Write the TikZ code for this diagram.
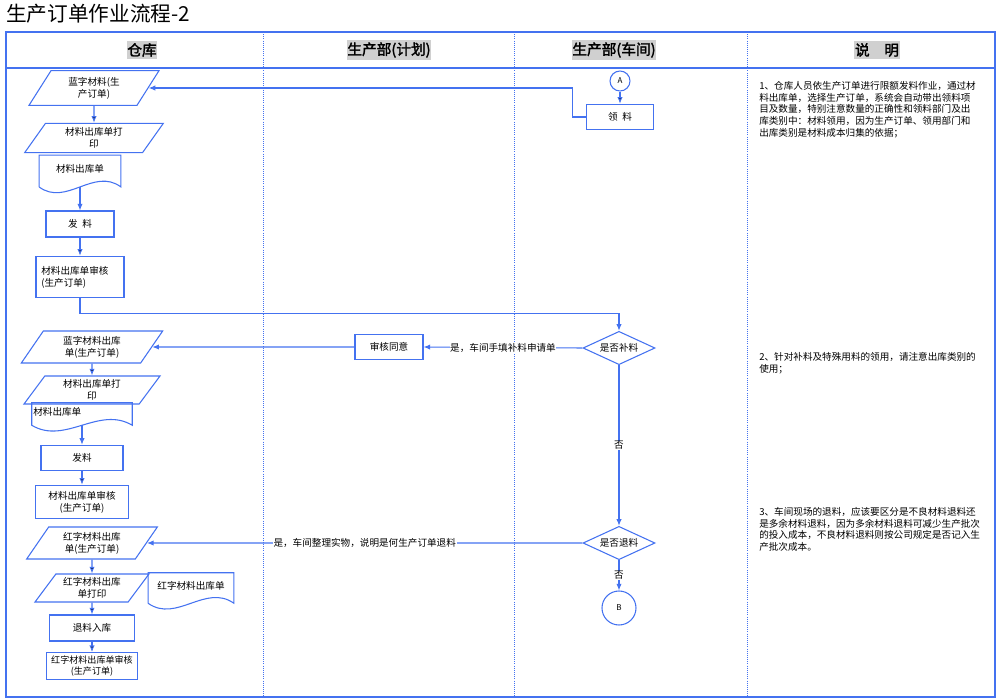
\documentclass[tikz,border=0pt]{standalone}
\usepackage{fontspec}
\setmainfont{Noto Sans CJK SC}
\newfontfamily\headfont{Noto Sans CJK SC}[FakeBold=2]
\usetikzlibrary{shapes.geometric,arrows.meta,calc}
\definecolor{flowblue}{RGB}{68,114,240}
\definecolor{headgray}{RGB}{208,208,208}
% document outline with wavy bottom
\newcommand{\docline}[1]{\draw[flowblue,line width=0.8pt] ([yshift=4.5pt]#1.south west) -- (#1.north west) -- (#1.north east) -- ([yshift=4.5pt]#1.south east) .. controls ($(#1.south east)!0.333!(#1.south west)+(0,19.5pt)$) and ($(#1.south east)!0.667!(#1.south west)+(0,-10.5pt)$) .. ([yshift=4.5pt]#1.south west);}
\begin{document}
\begin{tikzpicture}[x=0.75pt, y=-0.75pt,
    box/.style = {rectangle, draw=flowblue, line width=0.8pt, inner sep=1pt,
                  font=\fontsize{7.2}{9}\selectfont, align=center},
    para/.style = {trapezium, trapezium left angle=45, trapezium right angle=135,
                   trapezium stretches body, draw=flowblue, line width=0.8pt,
                   inner sep=0pt, font=\fontsize{7.2}{9}\selectfont, align=center},
    doc/.style = {rectangle, inner sep=1pt, text depth=8pt,
                  font=\fontsize{7.2}{9}\selectfont, align=center},
    dec/.style = {diamond, draw=flowblue, line width=0.8pt, aspect=2, inner sep=0pt,
                  minimum width=54pt, minimum height=25pt,
                  font=\fontsize{7.2}{9}\selectfont},
    conn/.style = {circle, draw=flowblue, line width=0.8pt, inner sep=0pt,
                   font=\fontsize{6}{7}\selectfont},
    head/.style = {fill=headgray, inner xsep=0.5pt, inner ysep=1.5pt,
                   font=\headfont\fontsize{11}{12}\selectfont},
    note/.style = {anchor=north west, inner sep=0pt, align=left,
                   font=\fontsize{7.2}{8.8}\selectfont},
    lbl/.style = {fill=white, inner sep=0.5pt, font=\fontsize{7.2}{9}\selectfont},
    flow/.style = {draw=flowblue, line width=0.8pt, -{Latex[length=5pt,width=4pt]}},
    lane/.style = {draw=flowblue, line width=0.8pt},
    lanesep/.style = {draw=flowblue, line width=0.6pt, densely dotted}]
    \useasboundingbox (0,0) rectangle (997,700);
    % title and lanes
    \node[anchor=west, inner sep=0pt, font=\fontsize{15.5}{18}\selectfont] (title) at (6,14) {生产订单作业流程-2};
    \draw[lane] (6,32) rectangle (995,697);
    \draw[lane] (6,68) -- (995,68);
    \foreach \x in {263,514,747}
        \draw[lanesep] (\x,32) -- (\x,697);
    \node[head] (hstore) at (142,50) {仓库};
    \node[head] (hplan) at (389,50) {生产部(计划)};
    \node[head] (hshop) at (614,50) {生产部(车间)};
    \node[head] (hnote) at (877,50) {说\hspace{1em}明};
    % warehouse
    \node[para, minimum width=97.5pt, minimum height=26pt] (bluein) at (94,88) {蓝字材料(生\\产订单)};
    \node[para, minimum width=104pt, minimum height=22pt] (print1) at (94,138) {材料出库单打\\印};
    \node[doc, minimum width=61pt, minimum height=28pt] (doc1) at (80,174) {材料出库单};
    \docline{doc1}
    \node[box, minimum width=51pt, minimum height=19.5pt] (issue1) at (80,224) {发\hspace{0.5em}料};
    \node[box, minimum width=66pt, minimum height=31pt, inner xsep=4pt, text width=58pt, align=left] (check1) at (80,277) {材料出库单审核\\(生产订单)};
    \node[para, minimum width=106pt, minimum height=24pt] (bluein2) at (92,347) {蓝字材料出库\\单(生产订单)};
    \node[para, minimum width=102pt, minimum height=21pt] (print2) at (92,390) {材料出库单打\\印};
    \node[doc, minimum width=75pt, minimum height=21pt, text width=73pt, align=left] (doc2) at (82,417) {材料出库单};
    \docline{doc2}
    \node[box, minimum width=61.5pt, minimum height=19pt] (issue2) at (82,458) {发料};
    \node[box, minimum width=70pt, minimum height=25pt] (check2) at (82,502) {材料出库单审核\\(生产订单)};
    \node[para, minimum width=98pt, minimum height=24pt] (redin) at (92,543) {红字材料出库\\单(生产订单)};
    \node[para, minimum width=85.5pt, minimum height=21pt] (print3) at (92,588) {红字材料出库\\单打印};
    \node[doc, minimum width=64pt, minimum height=27pt] (doc3) at (191,591) {红字材料出库单};
    \docline{doc3}
    \node[box, minimum width=64pt, minimum height=19.5pt] (back) at (92,628) {退料入库};
    \node[box, minimum width=68pt, minimum height=20pt, font=\fontsize{6.8}{8}\selectfont] (check3) at (92,666) {红字材料出库单审核\\(生产订单)};
    % planning
    \node[box, minimum width=51pt, minimum height=19pt] (okbox) at (389,347) {审核同意};
    % workshop
    \node[conn, minimum size=15pt] (ptA) at (620,81) {A};
    \node[box, minimum width=50pt, minimum height=19pt] (pick) at (620,117) {领\hspace{0.5em}料};
    \node[dec] (dsupp) at (619,348) {是否补料};
    \node[dec] (dret) at (619,543) {是否退料};
    \node[conn, minimum size=25.5pt] (ptB) at (619,608) {B};
    % notes
    \node[note] (note1) at (759,81) {1、仓库人员依生产订单进行限额发料作业，通过材\\料出库单，选择生产订单，系统会自动带出领料项\\目及数量，特别注意数量的正确性和领料部门及出\\库类别中：材料领用，因为生产订单、领用部门和\\出库类别是材料成本归集的依据；};
    \node[note] (note2) at (759,352) {2、针对补料及特殊用料的领用，请注意出库类别的\\使用；};
    \node[note] (note3) at (759,507) {3、车间现场的退料，应该要区分是不良材料退料还\\是多余材料退料，因为多余材料退料可减少生产批次\\的投入成本，不良材料退料则按公司规定是否记入生\\产批次成本。};
    % connectors
    \path[flow] (ptA) edge (pick);
    \draw[flow] (pick.west) -- ++(-14,0) |- (bluein.east);
    \path[flow] (bluein) edge (print1);
    \draw[flow] ([yshift=4.5pt]doc1.south) -- (issue1.north);
    \path[flow] (issue1) edge (check1);
    \draw[flow] (check1.south) -- ++(0,15) -| (dsupp.north);
    \draw[flow] (dsupp.west) -- node[lbl] {是，车间手填补料申请单} (okbox.east);
    \draw[flow] (okbox.west) -- (bluein2.east);
    \path[flow] (bluein2) edge (print2);
    \draw[flow] ([yshift=4.5pt]doc2.south) -- (issue2.north);
    \path[flow] (issue2) edge (check2);
    \draw[flow] (dsupp.south) -- node[lbl] {否} (dret.north);
    \draw[flow] (dret.west) -- node[lbl] {是，车间整理实物，说明是何生产订单退料} (redin.east);
    \draw[flow] (dret.south) -- node[lbl] {否} (ptB.north);
    \path[flow] (redin) edge (print3);
    \path[flow] (print3) edge (back);
    \path[flow] (back) edge (check3);
\end{tikzpicture}
\end{document}
